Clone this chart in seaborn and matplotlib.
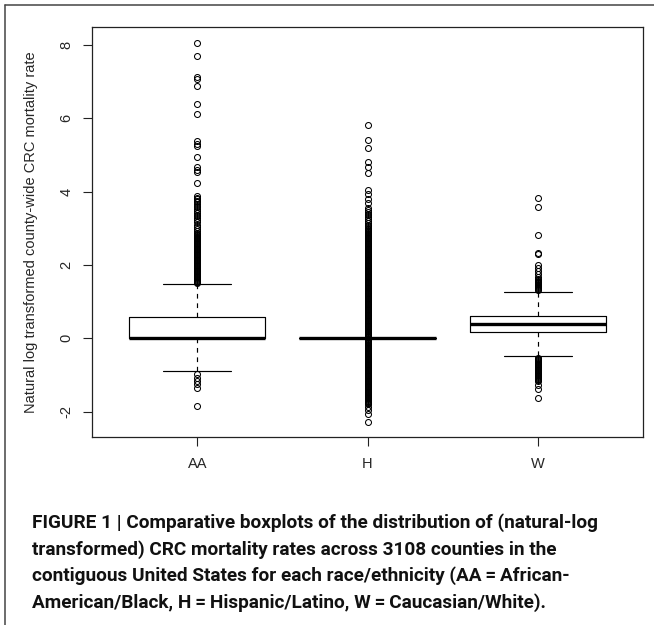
import numpy as np
import pandas as pd
import matplotlib
matplotlib.use("Agg")
import matplotlib.pyplot as plt
from matplotlib.lines import Line2D
import seaborn as sns

# ---- data (natural-log transformed CRC mortality rates) ----
groups = ["AA", "H", "W"]
n_counties = 3108
y_ticks = [-2, 0, 2, 4, 6, 8]

# values inside the whiskers: whisker ends, box ends and median; the 0 count takes the rest
aa_core_values = [-0.88, 0.00, 0.59, 1.47]
aa_core_counts = [1, 1800, 0, 1]
aa_low = [-0.98, -1.07, -1.16, -1.25, -1.35, -1.85]
aa_high = [8.06, 7.70, 7.12, 7.07, 6.88, 6.39, 6.12, 5.37, 5.30, 5.25, 4.94, 4.68,
           4.60, 4.54, 4.24,
           3.88, 3.84, 3.80, 3.75, 3.71, 3.66, 3.62, 3.57, 3.52, 3.47, 3.42, 3.37,
           3.33, 3.28, 3.22, 3.16, 3.10, 3.04, 2.98, 2.92,
           2.875, 2.850, 2.825, 2.800, 2.775, 2.750, 2.725, 2.700, 2.675, 2.650,
           2.625, 2.600, 2.575, 2.550, 2.525, 2.500, 2.475, 2.450, 2.425, 2.400,
           2.375, 2.350, 2.325, 2.300, 2.275, 2.250, 2.225, 2.200, 2.175, 2.150,
           2.125, 2.100, 2.075, 2.050, 2.025, 2.000, 1.975, 1.950, 1.925, 1.900,
           1.875, 1.850, 1.825, 1.800, 1.775, 1.750, 1.725, 1.700, 1.675, 1.650,
           1.625, 1.600, 1.575, 1.550, 1.525, 1.500]

h_core_values = [0.00]
h_core_counts = [0]
h_low = [-2.29, -2.05, -1.95, -1.86,
         -1.800, -1.775, -1.750, -1.725, -1.700, -1.675, -1.650, -1.625, -1.600, -1.575,
         -1.550, -1.525, -1.500, -1.475, -1.450, -1.425, -1.400, -1.375, -1.350, -1.325,
         -1.300, -1.275, -1.250, -1.225, -1.200, -1.175, -1.150, -1.125, -1.100, -1.075,
         -1.050, -1.025, -1.000, -0.975, -0.950, -0.925, -0.900, -0.875, -0.850, -0.825,
         -0.800, -0.775, -0.750, -0.725, -0.700, -0.675, -0.650, -0.625, -0.600, -0.575,
         -0.550, -0.525, -0.500, -0.475, -0.450, -0.425, -0.400, -0.375, -0.350, -0.325,
         -0.300, -0.275, -0.250, -0.225, -0.200, -0.175, -0.150, -0.125, -0.100, -0.075,
         -0.050, -0.025]
h_high = [5.82, 5.41, 5.20, 4.82, 4.66, 4.52, 4.04, 3.93, 3.80, 3.68, 3.55,
          3.50, 3.45, 3.40, 3.35, 3.30, 3.25, 3.20, 3.15, 3.10, 3.05,
          3.000, 2.975, 2.950, 2.925, 2.900, 2.875, 2.850, 2.825, 2.800, 2.775,
          2.750, 2.725, 2.700, 2.675, 2.650, 2.625, 2.600, 2.575, 2.550, 2.525,
          2.500, 2.475, 2.450, 2.425, 2.400, 2.375, 2.350, 2.325, 2.300, 2.275,
          2.250, 2.225, 2.200, 2.175, 2.150, 2.125, 2.100, 2.075, 2.050, 2.025,
          2.000, 1.975, 1.950, 1.925, 1.900, 1.875, 1.850, 1.825, 1.800, 1.775,
          1.750, 1.725, 1.700, 1.675, 1.650, 1.625, 1.600, 1.575, 1.550, 1.525,
          1.500, 1.475, 1.450, 1.425, 1.400, 1.375, 1.350, 1.325, 1.300, 1.275,
          1.250, 1.225, 1.200, 1.175, 1.150, 1.125, 1.100, 1.075, 1.050, 1.025,
          1.000, 0.975, 0.950, 0.925, 0.900, 0.875, 0.850, 0.825, 0.800, 0.775,
          0.750, 0.725, 0.700, 0.675, 0.650, 0.625, 0.600, 0.575, 0.550, 0.525,
          0.500, 0.475, 0.450, 0.425, 0.400, 0.375, 0.350, 0.325, 0.300, 0.275,
          0.250, 0.225, 0.200, 0.175, 0.150, 0.125, 0.100, 0.075, 0.050, 0.025]

w_core_values = [-0.49, 0.16, 0.40, 0.62, 1.27]
w_core_counts = [1, 1000, 1000, 0, 1]
w_low = [-1.64, -1.39, -1.27, -1.16,
         -1.125, -1.100, -1.075, -1.050, -1.025, -1.000, -0.975, -0.950, -0.925, -0.900,
         -0.875, -0.850, -0.825, -0.800, -0.775, -0.750, -0.725, -0.700, -0.675, -0.650,
         -0.625, -0.600, -0.575, -0.550, -0.535]
w_high = [3.82, 3.59, 2.82, 2.33, 2.30, 2.00, 1.93, 1.84, 1.75, 1.66,
          1.625, 1.600, 1.575, 1.550, 1.525, 1.500, 1.475, 1.450, 1.425, 1.400,
          1.375, 1.350, 1.325]

caption_lines = [
    "FIGURE 1 | Comparative boxplots of the distribution of (natural-log",
    "transformed) CRC mortality rates across 3108 counties in the",
    "contiguous United States for each race/ethnicity (AA\u2009=\u2009African-",
    "American/Black, H\u2009=\u2009Hispanic/Latino, W\u2009=\u2009Caucasian/White).",
]


def county_values(core_values, core_counts, low, high):
    counts = list(core_counts)
    counts[counts.index(0)] = n_counties - sum(counts) - len(low) - len(high)
    return np.concatenate([low, np.repeat(core_values, counts), high])


values = {
    "AA": county_values(aa_core_values, aa_core_counts, aa_low, aa_high),
    "H": county_values(h_core_values, h_core_counts, h_low, h_high),
    "W": county_values(w_core_values, w_core_counts, w_low, w_high),
}
df = pd.concat([pd.DataFrame({"group": g, "rate": values[g]}) for g in groups],
               ignore_index=True)

sns.set_theme(style="white")
plt.rcParams["font.family"] = ["Liberation Sans", "DejaVu Sans"]
fs = 10.5

fig = plt.figure(figsize=(6.54, 6.25), dpi=100)
ax = fig.add_axes([92 / 654, 1 - 437 / 625, 551 / 654, 410 / 625])

sns.boxplot(data=df, x="group", y="rate", order=groups, ax=ax,
            width=0.8, whis=1.5, fill=False, color="black", linewidth=0.85,
            capwidths=0.4,
            medianprops={"linewidth": 2.4, "solid_capstyle": "butt"},
            whiskerprops={"linestyle": (0, (4, 4))},
            flierprops={"marker": "o", "markerfacecolor": "none",
                        "markeredgecolor": "black", "markersize": 4.3,
                        "markeredgewidth": 0.75})

ax.set_xlim(-0.62, 2.62)
ax.set_ylim(-2.69, 8.49)
ax.set_yticks(y_ticks)
ax.set_yticklabels([str(t) for t in y_ticks])
ax.set_xlabel("")
ax.set_ylabel("Natural log transformed county-wide CRC mortality rate", fontsize=fs)
ax.yaxis.set_label_coords(-0.098, 0.5)

for s in ax.spines.values():
    s.set_visible(True)
    s.set_color("#222222")
    s.set_linewidth(0.9)
ax.tick_params(axis="both", direction="out", length=6.2, width=0.8, color="#222222",
               labelsize=fs, pad=7, left=True, bottom=True)
ax.tick_params(axis="x", pad=8.5)
plt.setp(ax.get_yticklabels(), rotation=90, va="center", ha="right")

# outer panel border (top and left edges only)
fig.add_artist(Line2D([5 / 654, 5 / 654], [0, 1 - 5 / 625], transform=fig.transFigure,
                      color="#444444", linewidth=1.1))
fig.add_artist(Line2D([5 / 654, 1], [1 - 5 / 625, 1 - 5 / 625], transform=fig.transFigure,
                      color="#444444", linewidth=1.1))

# caption: bold, condensed-looking; size chosen so the first line spans ~565 px
cap_font = ["Roboto", "DejaVu Sans"]
cap_texts = []
for i, line in enumerate(caption_lines):
    cap_texts.append(fig.text(32 / 654, 1 - (528 + 26.5 * i) / 625, line, fontsize=12,
                              fontweight="bold", family=cap_font, va="baseline",
                              ha="left", color="#111111"))
fig.canvas.draw()
renderer = fig.canvas.get_renderer()
scale = 565 / cap_texts[0].get_window_extent(renderer).width
for t in cap_texts:
    t.set_fontsize(12 * scale)

fig.savefig("out.png", dpi=100)
